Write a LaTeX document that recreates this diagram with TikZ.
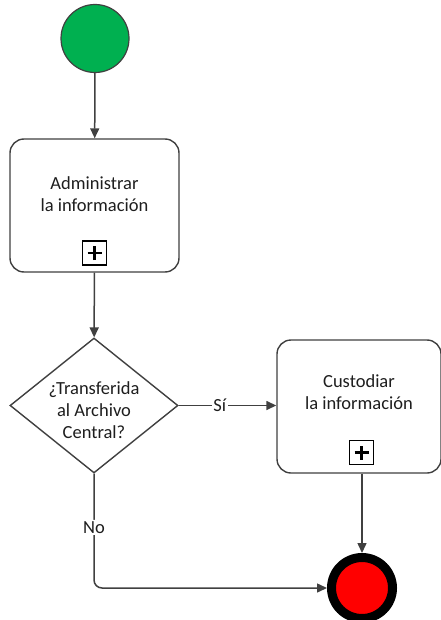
\documentclass[tikz,border=0pt]{standalone}
\usepackage{fontspec}
\setmainfont{Carlito}
\usetikzlibrary{shapes.geometric,arrows.meta}
\definecolor{startgreen}{RGB}{0,176,80}
\definecolor{endred}{RGB}{255,0,0}
\definecolor{edge}{RGB}{64,64,64}
\definecolor{txt}{RGB}{30,30,30}
\begin{document}
\begin{tikzpicture}[x=1pt,y=-1pt,
  txtstyle/.style={font=\fontsize{18.5}{22}\selectfont, text=txt, align=center, inner sep=0pt},
  taskbox/.style={draw=edge, line width=1.4pt, rounded corners=14pt, fill=white,
    minimum width=164pt, minimum height=133pt, inner sep=0pt},
  plusbox/.style={draw=black, line width=1.3pt, fill=white, minimum size=24pt, inner sep=0pt},
  flow/.style={draw=edge, line width=1.5pt, -{Triangle[length=10pt,width=9pt]}},
  lbl/.style={txtstyle, fill=white, inner sep=1.5pt}
]
\useasboundingbox (0,0) rectangle (440,620);

% start event
\node[circle, draw=edge, line width=1.2pt, fill=startgreen, minimum size=68pt, inner sep=0pt] (start) at (95,38.5) {};

% sub-process: Administrar la informacion
\node[taskbox, minimum width=169pt] (admin) at (94.5,205.5) {};
\node[txtstyle] (admintxt) at (94.5,194) {Administrar\\la información};
\node[plusbox] (adminplus) at (94.5,253) {};
\draw[line width=2.8pt] ([xshift=-7pt]adminplus.center) -- ([xshift=7pt]adminplus.center)
  ([yshift=-7pt]adminplus.center) -- ([yshift=7pt]adminplus.center);

% gateway
\node[diamond, draw=edge, line width=1.4pt, fill=white, minimum width=168pt, minimum height=135pt, inner sep=0pt] (gw) at (94,405.5) {};
\node[txtstyle] (gwtxt) at (94,410.5) {¿Transferida\\al Archivo\\Central?};

% sub-process: Custodiar la informacion
\node[taskbox] (cust) at (359,406.5) {};
\node[txtstyle] (custtxt) at (359,392) {Custodiar\\la información};
\node[plusbox] (custplus) at (361.5,452.5) {};
\draw[line width=2.8pt] ([xshift=-7pt]custplus.center) -- ([xshift=7pt]custplus.center)
  ([yshift=-7pt]custplus.center) -- ([yshift=7pt]custplus.center);

% end event
\node[circle, draw=black, line width=9pt, fill=endred, minimum size=61pt, inner sep=0pt] (endc) at (362,588) {};

% sequence flows
\draw[flow] (start) -- (admin);
\draw[flow] (admin) -- (gw);
\draw[flow] (gw.east) -- node[lbl, pos=0.42] (si) {Sí} (cust.west |- gw.east);
\draw[flow] (cust.south -| endc) -- (endc);
\draw[flow, rounded corners=8pt] (gw.south) -- node[lbl, pos=0.47] (no) {No} (gw.south |- endc) -- (endc.west);
\end{tikzpicture}
\end{document}
